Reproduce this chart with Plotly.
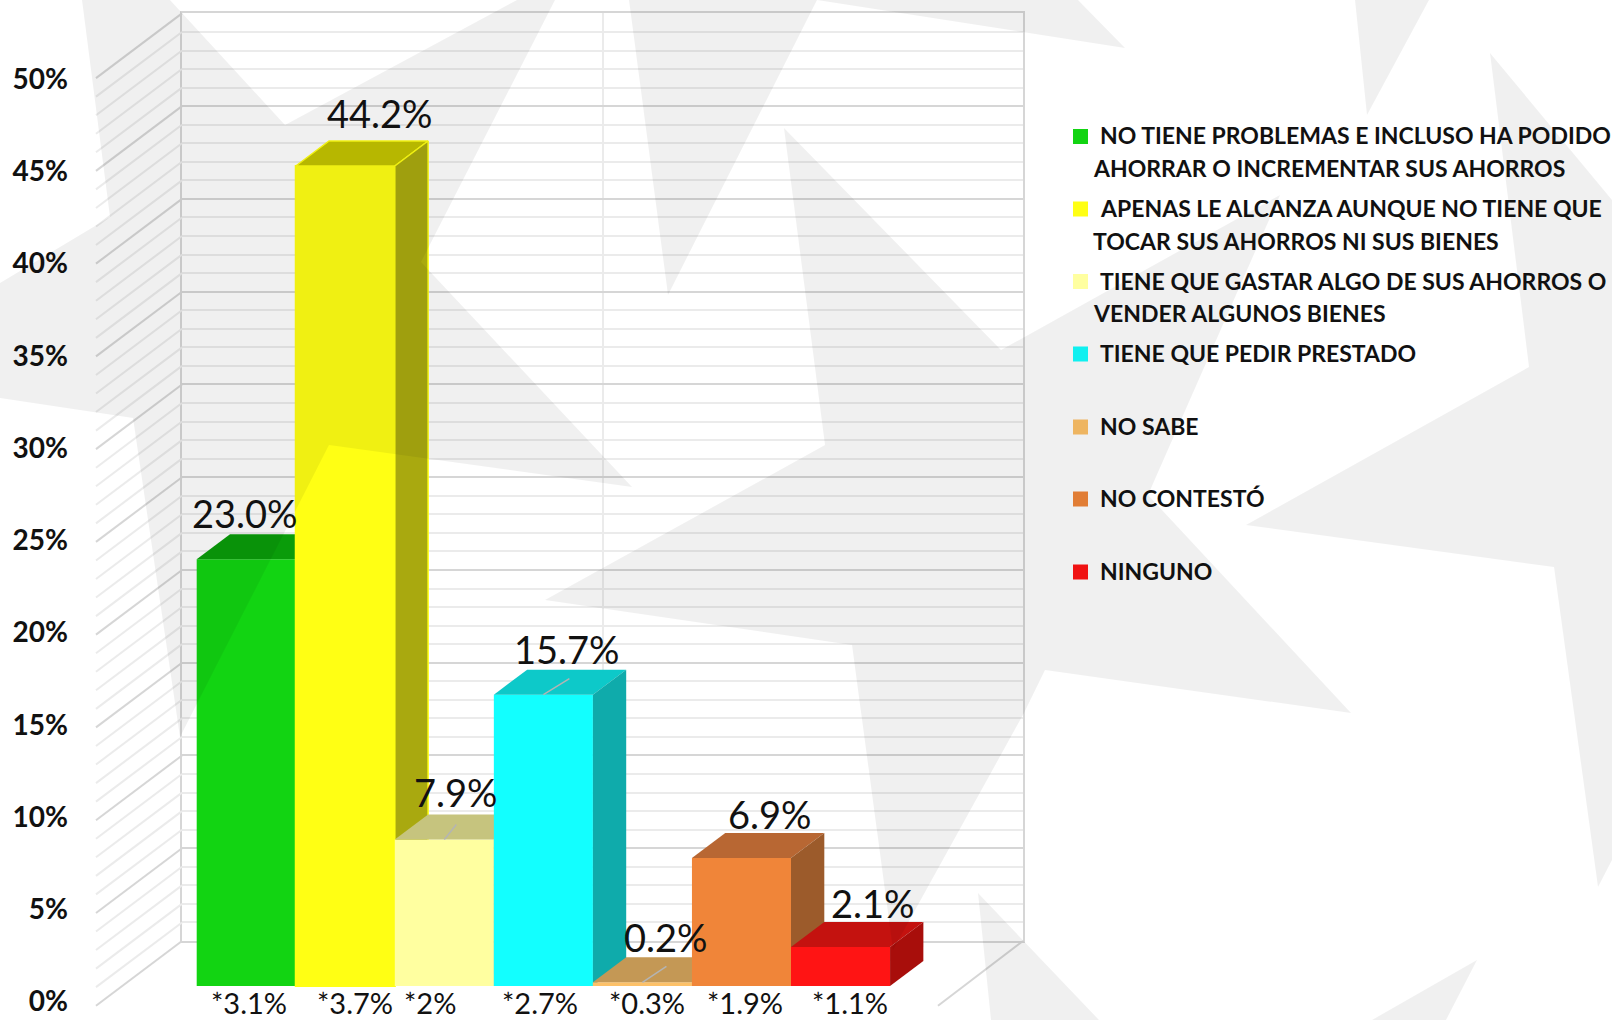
import plotly.graph_objects as go

# ---------- data ----------
categories = [
    "NO TIENE PROBLEMAS E INCLUSO HA PODIDO AHORRAR O INCREMENTAR SUS AHORROS",
    "APENAS LE ALCANZA AUNQUE NO TIENE QUE TOCAR SUS AHORROS NI SUS BIENES",
    "TIENE QUE GASTAR ALGO DE SUS AHORROS O VENDER ALGUNOS BIENES",
    "TIENE QUE PEDIR PRESTADO",
    "NO SABE",
    "NO CONTESTÓ",
    "NINGUNO",
]
values = [23.0, 44.2, 7.9, 15.7, 0.2, 6.9, 2.1]
margins_of_error = ["*3.1%", "*3.7%", "*2%", "*2.7%", "*0.3%", "*1.9%", "*1.1%"]
value_labels = ["23.0%", "44.2%", "7.9%", "15.7%", "0.2%", "6.9%", "2.1%"]
legend_lines = [
    ["NO TIENE PROBLEMAS E INCLUSO HA PODIDO", "AHORRAR O INCREMENTAR SUS AHORROS"],
    ["APENAS LE ALCANZA AUNQUE NO TIENE QUE", "TOCAR SUS AHORROS NI SUS BIENES"],
    ["TIENE QUE GASTAR ALGO DE SUS AHORROS O", "VENDER ALGUNOS BIENES"],
    ["TIENE QUE PEDIR PRESTADO"],
    ["NO SABE"],
    ["NO CONTESTÓ"],
    ["NINGUNO"],
]

# ---------- style ----------
W, H = 1612, 1020
PX_PER_PCT = 18.552
PX_PER_CAT = 99.05
BAR_LEFT = 196.7
BAR_BASE = 986
FRONT_ZERO = 1005.7
LABEL_ZERO, LABEL_FIFTY = 1001.5, 79.1   # tick labels: page y of 0% and 50%, kept inside the page
BACK_ZERO = 941
BACK_TOP = 13.4
WALL_L, WALL_R, WALL_FRONT_L, WALL_FRONT_R = 182, 1023, 96, 938
DEPTH_X = 33.3 / PX_PER_CAT
DEPTH_Y = 25 / PX_PER_PCT
WALL_RISE = (FRONT_ZERO - BACK_ZERO) / PX_PER_PCT

front_colors = ["#12d412", "#ffff14", "#ffffa0", "#12ffff", "#fdc168", "#f08539", "#ff1414"]
top_colors = ["#0a9c0a", "#c3c300", "#c6c47e", "#0dc9c9", "#c49855", "#b86733", "#c4120f"]
side_colors = ["#0a8a0a", "#a9a90f", "#b5b36a", "#0fabab", "#a88040", "#9c5b2b", "#a80e0b"]
edge_colors = [None, "#ffff14", None, None, None, None, None]
label_dx = [-1, 35, 12, 24, 24, 29, 32]
label_dy = [46, 53, 47, 46, 45, 44, 44]
moe_dx = [3, 10, -14, -3, 5, 4, 9]
leader_ends = {2: (12, 15), 3: (26, 16), 4: (24, 16)}

FONT = "Lato"
MAJOR, MINOR = "#d6d6d6", "#ebebeb"

# Watermark star pieces, in page pixels (decorative, overlaid on everything)
watermark = [
    [(82, 0), (110, 217), (0, 283), (0, 398), (133, 418), (180, 737), (329, 445), (632, 487),
     (421, 262), (555, 0), (517, 0), (285, 125), (170, 0)],
    [(629, 0), (817, 0), (668, 295)],
    [(817, 0), (1078, 0), (1125, 48)],
    [(1355, 0), (1429, 0), (1367, 115)],
    [(784, 128), (1001, 350), (1280, 195), (1148, 495), (1351, 713), (1045, 670), (1024, 713),
     (893, 950), (852, 645), (545, 600), (825, 445)],
    [(1490, 53), (1612, 200), (1612, 860), (1598, 887), (1554, 567), (1246, 525), (1529, 367)],
    [(978, 893), (1099, 1020), (991, 1020)],
    [(1477, 960), (1446, 1020), (1372, 1020)],
]

fig = go.Figure()

# side wall and floor lines, on a scale whose zero is the front edge of the wall
for v in range(0, 51):
    major = v % 5 == 0
    fig.add_trace(go.Scatter(
        x=[WALL_FRONT_L, WALL_L], y=[v, v + WALL_RISE], xaxis="x2", yaxis="y2", mode="lines",
        line=dict(color=MAJOR if major else MINOR, width=2), hoverinfo="skip", showlegend=False))
fig.add_trace(go.Scatter(
    x=[WALL_FRONT_R, WALL_R], y=[0, WALL_RISE], xaxis="x2", yaxis="y2", mode="lines",
    line=dict(color=MAJOR, width=2), hoverinfo="skip", showlegend=False))
# empty traces so the back wall and the tick label axis exist
fig.add_trace(go.Scatter(x=[0, 2], y=[0, 50], xaxis="x", yaxis="y", mode="none",
                         hoverinfo="skip", showlegend=False))
fig.add_trace(go.Scatter(x=[0, 1], y=[0, 50], xaxis="x2", yaxis="y10", mode="none",
                         hoverinfo="skip", showlegend=False))

# one overlaid subplot per bar, so later bars paint over earlier ones
for i, v in enumerate(values):
    ax = i + 3
    xa, ya = f"x{ax}", f"y{ax}"
    edge = edge_colors[i]
    line = dict(color=edge, width=1.5) if edge else dict(width=0)
    fig.add_trace(go.Bar(x=[i], y=[v], width=1, xaxis=xa, yaxis=ya, name=categories[i],
                         marker=dict(color=front_colors[i],
                                     line=dict(width=2 if edge else 0, color=edge or front_colors[i])),
                         showlegend=False))
    l, r = i - 0.5, i + 0.5
    fig.add_trace(go.Scatter(
        x=[l, r, r + DEPTH_X, l + DEPTH_X, l], y=[v, v, v + DEPTH_Y, v + DEPTH_Y, v],
        xaxis=xa, yaxis=ya, mode="lines", fill="toself", fillcolor=top_colors[i], line=line,
        hoverinfo="skip", showlegend=False))
    fig.add_trace(go.Scatter(
        x=[r, r, r + DEPTH_X, r + DEPTH_X, r], y=[0, v, v + DEPTH_Y, DEPTH_Y, 0],
        xaxis=xa, yaxis=ya, mode="lines", fill="toself", fillcolor=side_colors[i], line=line,
        hoverinfo="skip", showlegend=False))
    if i in leader_ends:
        dx, dy = leader_ends[i]
        fig.add_trace(go.Scatter(
            x=[i, i + dx / PX_PER_CAT], y=[v, v + dy / PX_PER_PCT], xaxis=xa, yaxis=ya, mode="lines",
            line=dict(color="#b4b4b4", width=1.5), hoverinfo="skip", showlegend=False))

label_scale = (LABEL_ZERO - LABEL_FIFTY) / 50

layout = dict(
    width=W, height=H, autosize=False, margin=dict(l=0, r=0, t=0, b=0, pad=0),
    paper_bgcolor="white", plot_bgcolor="rgba(0,0,0,0)", barmode="overlay",
    font=dict(family=FONT, color="#111111"), hovermode=False,
    # back wall with its own gridlines
    xaxis=dict(domain=[WALL_L / W, WALL_R / W], range=[0, 2], dtick=1, showgrid=True, gridcolor=MINOR,
               gridwidth=2, zeroline=False, showticklabels=False, ticks="", anchor="y",
               showline=True, mirror=True, linecolor=MAJOR, linewidth=2),
    yaxis=dict(domain=[1 - BACK_ZERO / H, 1 - BACK_TOP / H], range=[0, 50], tick0=0, dtick=5,
               showgrid=True, gridcolor=MAJOR, gridwidth=2, zeroline=False, showticklabels=False,
               ticks="", showline=True, mirror=True, linecolor=MAJOR, linewidth=2, anchor="x",
               minor=dict(dtick=1, showgrid=True, gridcolor=MINOR, gridwidth=2)),
    # side wall lines
    xaxis2=dict(domain=[0, 1], range=[0, W], visible=False, anchor="y2"),
    yaxis2=dict(domain=[0, 1], range=[-(H - FRONT_ZERO) / PX_PER_PCT, FRONT_ZERO / PX_PER_PCT],
                visible=False, anchor="x2"),
    # percentage tick labels
    yaxis10=dict(domain=[0, 1], overlaying="y2", range=[-(H - LABEL_ZERO) / label_scale, LABEL_ZERO / label_scale],
                 anchor="free", position=68 / W, side="left", tickmode="linear", tick0=0, dtick=5,
                 ticksuffix="%", showticksuffix="all", showgrid=False, zeroline=False, showline=False, ticks="",
                 ticklabeloverflow="allow",
                 tickfont=dict(family=FONT, size=28, color="#111111", weight="bold")),
)
x_range = [-0.5 - BAR_LEFT / PX_PER_CAT, -0.5 + (W - BAR_LEFT) / PX_PER_CAT]
y_range = [-(H - BAR_BASE) / PX_PER_PCT, BAR_BASE / PX_PER_PCT]
for i in range(len(values)):
    ax = i + 3
    xd = dict(domain=[0, 1], range=x_range, visible=False, anchor=f"y{ax}")
    yd = dict(domain=[0, 1], range=y_range, visible=False, anchor=f"x{ax}")
    if i:
        xd["overlaying"] = "x3"
        yd["overlaying"] = "y3"
    layout[f"xaxis{ax}"] = xd
    layout[f"yaxis{ax}"] = yd

annotations = []
for i, v in enumerate(values):
    annotations.append(dict(text=value_labels[i], x=i, y=v, xref="x3", yref="y3", showarrow=False,
                            xshift=label_dx[i], yshift=label_dy[i], xanchor="center", yanchor="middle",
                            font=dict(family=FONT, size=38, color="#111111")))
    annotations.append(dict(text=margins_of_error[i], x=i, y=0, xref="x3", yref="y3", showarrow=False,
                            xshift=moe_dx[i], yshift=-16.5, xanchor="center", yanchor="middle",
                            font=dict(family=FONT, size=29, color="#111111")))

legend_y = [136.5, 209, 281.5, 354, 427, 499, 572]
shapes = []
for i, lines in enumerate(legend_lines):
    y = legend_y[i]
    shapes.append(dict(type="rect", xref="paper", yref="paper", x0=1073 / W, x1=1088 / W,
                       y0=1 - (y + 7.5) / H, y1=1 - (y - 7.5) / H, fillcolor=front_colors[i],
                       line=dict(width=0), layer="above"))
    for j, text in enumerate(lines):
        annotations.append(dict(text=text, xref="paper", yref="paper", x=(1098 if j == 0 else 1091) / W,
                                y=1 - (y + 32.5 * j - 1) / H, showarrow=False, xanchor="left", yanchor="middle",
                                font=dict(family=FONT, size=23, color="#111111", weight="bold")))

# watermark polygons are given in pixels: convert to paper units for the path
path = " ".join("M " + " L ".join(f"{x / W:.5f},{1 - y / H:.5f}" for x, y in poly) + " Z" for poly in watermark)
shapes.append(dict(type="path", xref="paper", yref="paper", path=path, layer="above",
                   fillcolor="rgba(0,0,0,0.058)", line=dict(width=0)))

layout["annotations"] = annotations
layout["shapes"] = shapes
fig.update_layout(**layout)

fig.write_html("out.html", config={"displayModeBar": False},
               post_script="document.body.style.margin='0';document.documentElement.style.overflow='hidden';")
